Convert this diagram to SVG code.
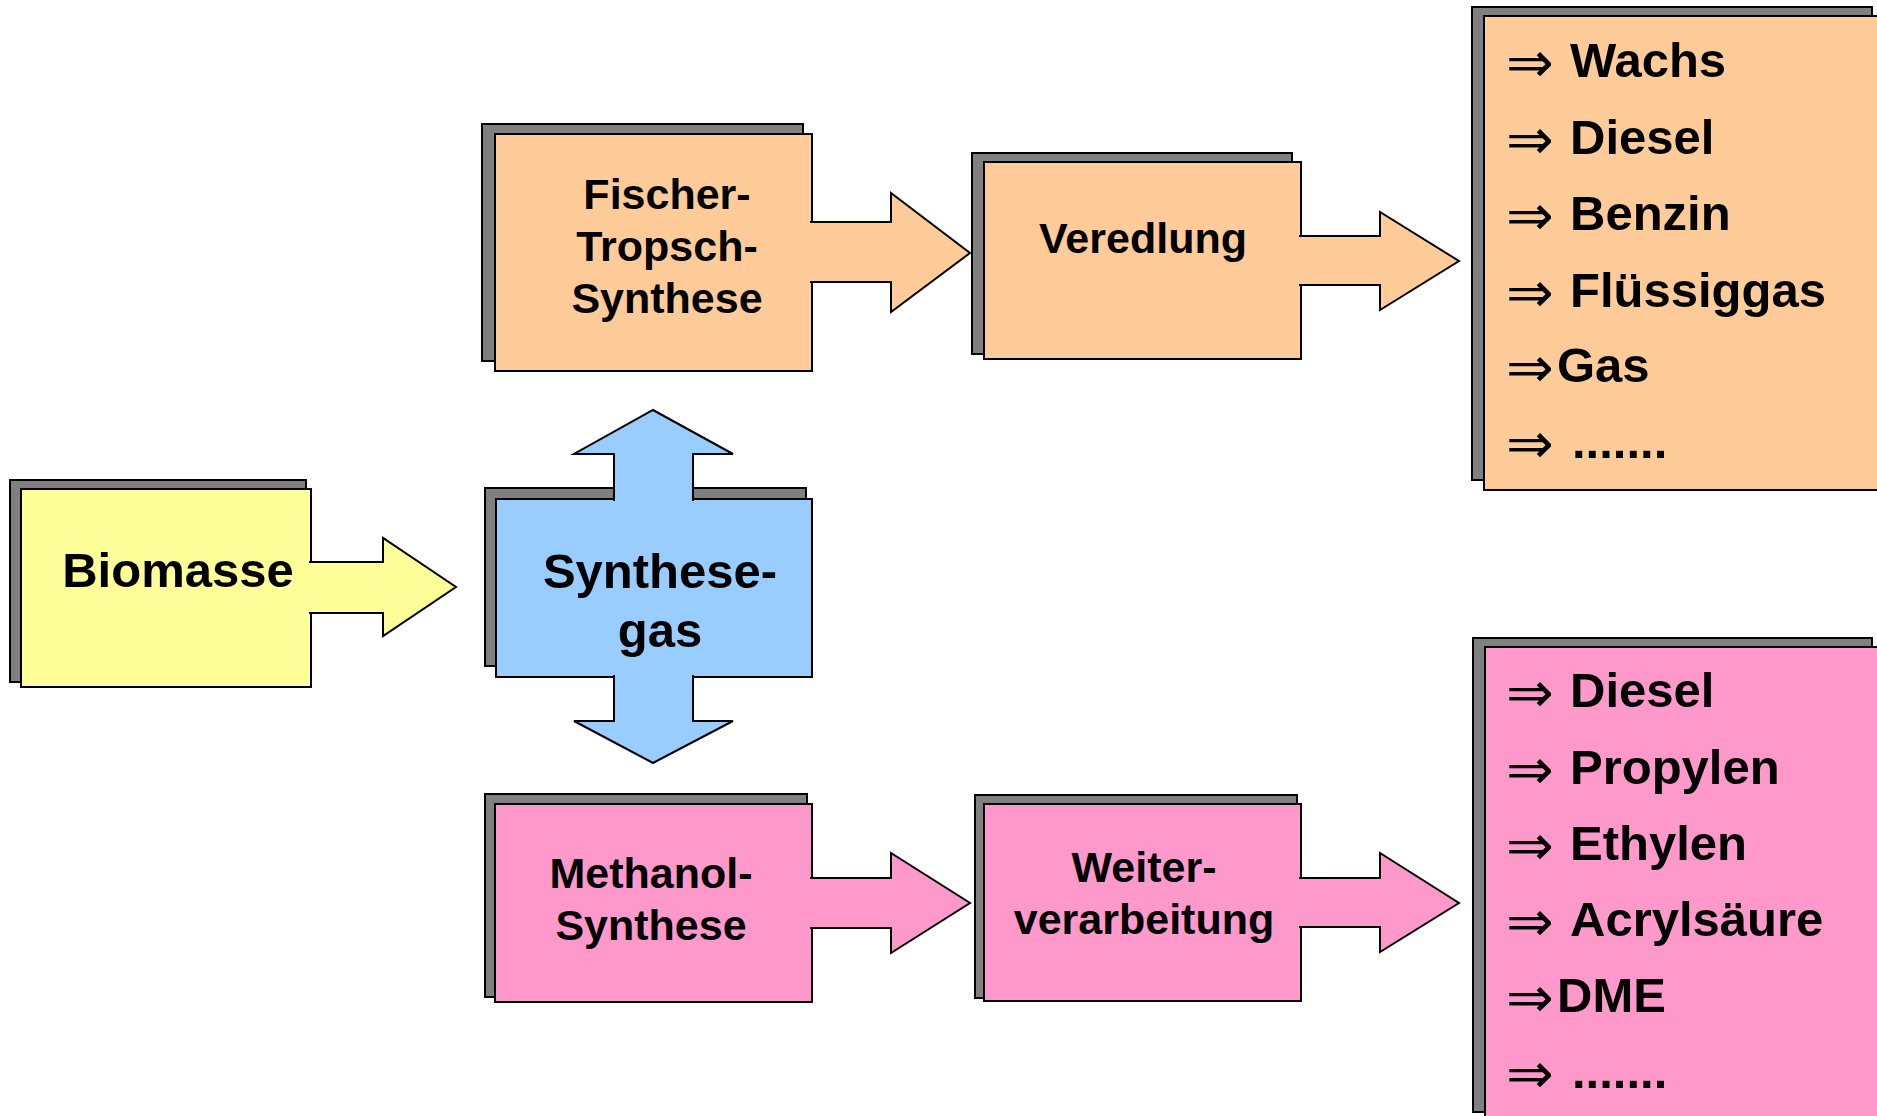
<svg xmlns="http://www.w3.org/2000/svg" width="1877" height="1116" viewBox="0 0 1877 1116">
<style>
.sh{fill:#808080;stroke:#000;stroke-width:2}
.bx{stroke:#000;stroke-width:2}
.y{fill:#FFFF99}.o{fill:#FFCC99}.b{fill:#99CCFF}.p{fill:#FF99CC}
.cn{stroke:#000;stroke-width:2;stroke-linejoin:miter}
.lbl{font-family:"Liberation Sans",Arial,sans-serif;font-weight:bold;fill:#000;text-anchor:middle}
.li{font-family:"Liberation Sans",Arial,sans-serif;font-weight:bold;fill:#000;font-size:49px}
.ar{font-family:"DejaVu Sans",sans-serif;font-weight:normal;font-size:57px}
</style>
<rect width="1877" height="1116" fill="#fff"/>
<g id="biomasse">
<rect class="sh" x="10" y="480" width="296" height="202"/>
<rect class="bx y" x="21" y="489" width="290" height="198"/>
<text class="lbl" x="178" y="587" font-size="49">Biomasse</text>
</g>
<g id="synthesegas">
<rect class="sh" x="485" y="488" width="321" height="178"/>
<rect class="bx b" x="496" y="499" width="316" height="178"/>
</g>
<g id="fischer-tropsch">
<rect class="sh" x="482" y="124" width="321" height="237"/>
<rect class="bx o" x="495" y="134" width="317" height="237"/>
<text class="lbl" font-size="43"><tspan x="667" y="209">Fischer-</tspan><tspan x="667" y="261">Tropsch-</tspan><tspan x="667" y="313">Synthese</tspan></text>
</g>
<g id="veredlung">
<rect class="sh" x="972" y="153" width="320" height="201"/>
<rect class="bx o" x="984" y="162" width="317" height="197"/>
<text class="lbl" x="1143" y="253" font-size="43">Veredlung</text>
</g>
<g id="methanol">
<rect class="sh" x="485" y="794" width="322" height="203"/>
<rect class="bx p" x="495" y="804" width="317" height="198"/>
<text class="lbl" font-size="43"><tspan x="651" y="888">Methanol-</tspan><tspan x="651" y="940">Synthese</tspan></text>
</g>
<g id="weiterverarbeitung">
<rect class="sh" x="975" y="795" width="322" height="203"/>
<rect class="bx p" x="984" y="804" width="317" height="197"/>
<text class="lbl" font-size="43"><tspan x="1144" y="882">Weiter-</tspan><tspan x="1144" y="934">verarbeitung</tspan></text>
</g>
<g id="produkte-ft">
<rect class="sh" x="1472" y="7" width="400" height="473"/>
<rect class="bx o" x="1484" y="16" width="420" height="474"/>
<text class="li" y="77"><tspan class="ar" x="1506" dy="5">⇒</tspan> <tspan x="1570" dy="-5">Wachs</tspan></text>
<text class="li" y="154"><tspan class="ar" x="1506" dy="5">⇒</tspan> <tspan x="1570" dy="-5">Diesel</tspan></text>
<text class="li" y="230"><tspan class="ar" x="1506" dy="5">⇒</tspan> <tspan x="1570" dy="-5">Benzin</tspan></text>
<text class="li" y="307"><tspan class="ar" x="1506" dy="5">⇒</tspan> <tspan x="1570" dy="-5">Flüssiggas</tspan></text>
<text class="li" y="382"><tspan class="ar" x="1506" dy="5">⇒</tspan><tspan x="1557" dy="-5">Gas</tspan></text>
<text class="li" y="458"><tspan class="ar" x="1506" dy="5">⇒</tspan> <tspan x="1572" dy="-5">.......</tspan></text>
</g>
<g id="produkte-methanol">
<rect class="sh" x="1473" y="638" width="399" height="474"/>
<rect class="bx p" x="1485" y="647" width="420" height="480"/>
<text class="li" y="707"><tspan class="ar" x="1506" dy="5">⇒</tspan> <tspan x="1570" dy="-5">Diesel</tspan></text>
<text class="li" y="784"><tspan class="ar" x="1506" dy="5">⇒</tspan> <tspan x="1570" dy="-5">Propylen</tspan></text>
<text class="li" y="860"><tspan class="ar" x="1506" dy="5">⇒</tspan> <tspan x="1570" dy="-5">Ethylen</tspan></text>
<text class="li" y="936"><tspan class="ar" x="1506" dy="5">⇒</tspan> <tspan x="1570" dy="-5">Acrylsäure</tspan></text>
<text class="li" y="1012"><tspan class="ar" x="1506" dy="5">⇒</tspan><tspan x="1557" dy="-5">DME</tspan></text>
<text class="li" y="1088"><tspan class="ar" x="1506" dy="5">⇒</tspan> <tspan x="1572" dy="-5">.......</tspan></text>
</g>
<g id="connectors">
<path class="cn y" d="M309,562 H383 V538 L456,587 L383,636 V613 H309"/>
<path class="cn b" d="M614,501 V454 H574 L653,410 L733,454 H693 V501"/>
<path class="cn b" d="M614,675 V721 H574 L653,763 L733,721 H693 V675"/>
<path class="cn o" d="M810,222 H891 V193 L970,253 L891,312 V282 H810"/>
<path class="cn o" d="M1299,236 H1380 V212 L1459,261 L1380,310 V285 H1299"/>
<path class="cn p" d="M810,878 H891 V853 L970,903 L891,953 V928 H810"/>
<path class="cn p" d="M1299,878 H1380 V853 L1459,903 L1380,952 V927 H1299"/>
</g>
<text class="lbl" font-size="49"><tspan x="660" y="588">Synthese-</tspan><tspan x="660" y="647">gas</tspan></text>
</svg>
